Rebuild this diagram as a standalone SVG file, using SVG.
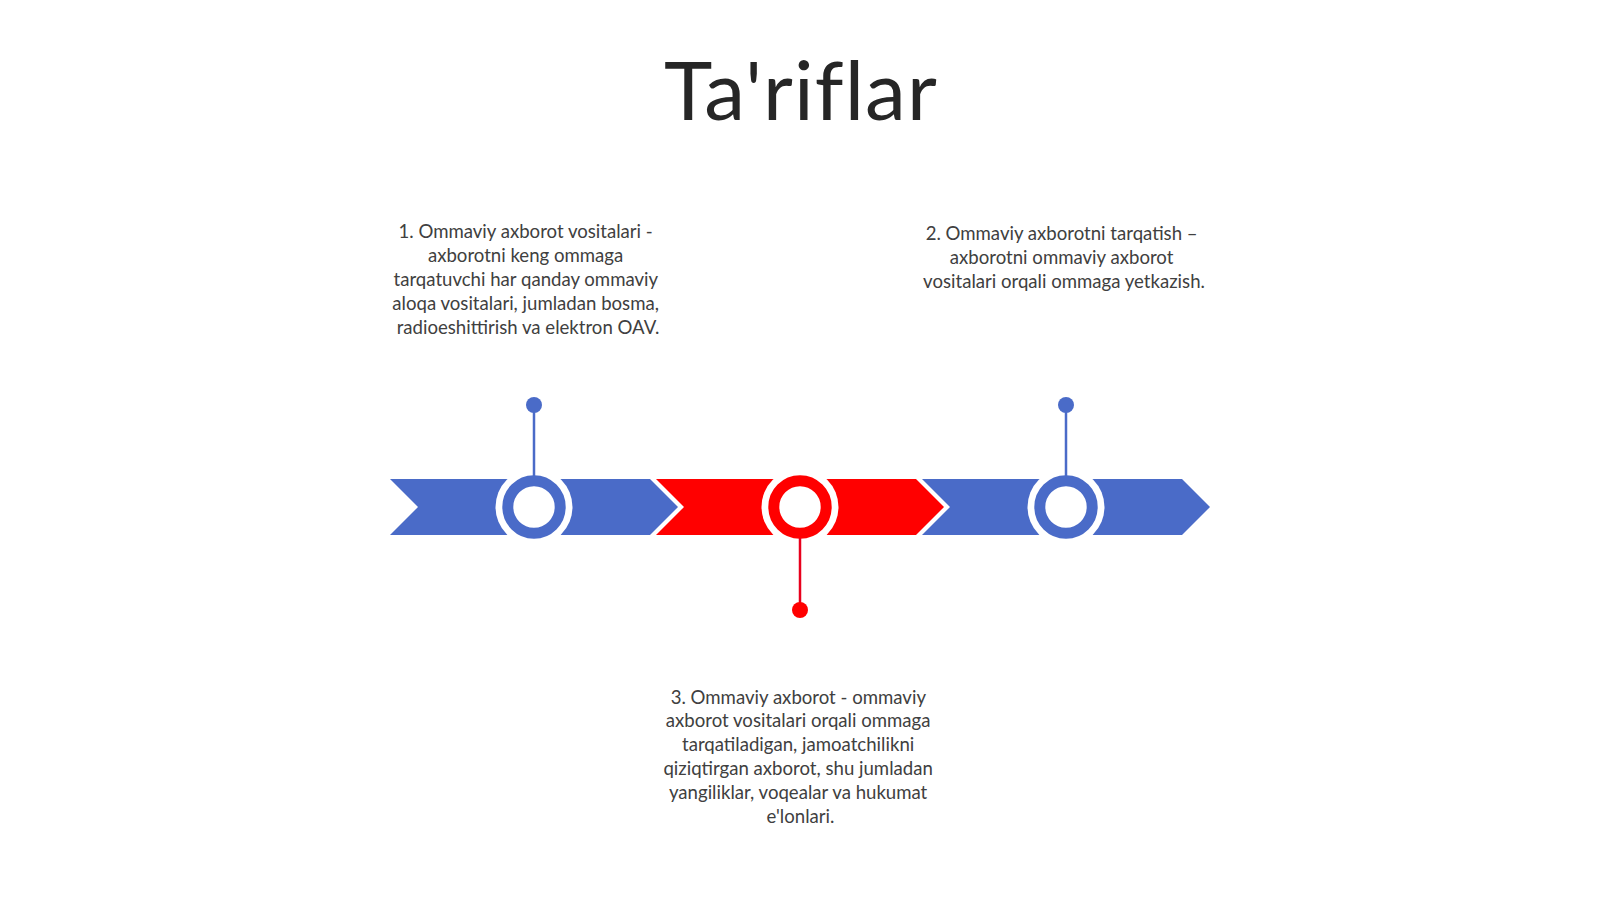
<svg xmlns="http://www.w3.org/2000/svg" width="1600" height="899" viewBox="0 0 1600 899">
<style>
.title{font-family:Lato,"Liberation Sans",sans-serif;font-size:82px;letter-spacing:1.1px;fill:#262626;text-anchor:middle}
.body{font-family:Lato,"Liberation Sans",sans-serif;font-size:18.6px;fill:#404040;text-anchor:middle}
.blue{fill:#4a6bc8}
.red{fill:#ff0000}
.halo{fill:#ffffff}
.ringb{fill:#ffffff;stroke:#4a6bc8;stroke-width:11}
.ringr{fill:#ffffff;stroke:#ff0000;stroke-width:11}
.stemb{stroke:#4a6bc8;stroke-width:2.5}
.stemr{stroke:#e8001c;stroke-width:2.5}
</style>
<rect width="1600" height="899" fill="#ffffff"/>
<text class="title" x="801" y="120">Ta'riflar</text>

<g id="ribbon">
  <polygon id="seg1" class="blue" points="390,479 650,479 678,507 650,535 390,535 418,507"/>
  <polygon id="seg2" class="red" points="656,479 916,479 944,507 916,535 656,535 684,507"/>
  <polygon id="seg3" class="blue" points="922,479 1182,479 1210,507 1182,535 922,535 950,507"/>
</g>

<g id="node1">
  <circle class="halo" cx="534" cy="507" r="38.5"/>
  <circle class="ringb" cx="534" cy="507" r="26.2"/>
  <text class="body" x="528">
    <tspan x="528" y="237.6">1. Ommaviy axborot vositalari -</tspan>
    <tspan x="528" y="261.6">axborotni keng ommaga</tspan>
    <tspan x="528" y="285.6">tarqatuvchi har qanday ommaviy</tspan>
    <tspan x="528" y="309.6">aloqa vositalari, jumladan bosma,</tspan>
    <tspan x="528" y="333.6">radioeshittirish va elektron OAV.</tspan>
  </text>
</g>

<g id="node2">
  <circle class="halo" cx="800" cy="507" r="38.5"/>
  <circle class="ringr" cx="800" cy="507" r="26.2"/>
  <text class="body" x="800.5">
    <tspan x="800.5" y="703.5">3. Ommaviy axborot - ommaviy</tspan>
    <tspan x="800.5" y="727.4">axborot vositalari orqali ommaga</tspan>
    <tspan x="800.5" y="751.3">tarqatiladigan, jamoatchilikni</tspan>
    <tspan x="800.5" y="775.2">qiziqtirgan axborot, shu jumladan</tspan>
    <tspan x="800.5" y="799.1">yangiliklar, voqealar va hukumat</tspan>
    <tspan x="800.5" y="823">e'lonlari.</tspan>
  </text>
</g>

<g id="node3">
  <circle class="halo" cx="1066" cy="507" r="38.5"/>
  <circle class="ringb" cx="1066" cy="507" r="26.2"/>
  <text class="body" x="1064">
    <tspan x="1064" y="240.3">2. Ommaviy axborotni tarqatish –</tspan>
    <tspan x="1064" y="264.3">axborotni ommaviy axborot</tspan>
    <tspan x="1064" y="288.3">vositalari orqali ommaga yetkazish.</tspan>
  </text>
</g>

<g id="connectors">
  <line class="stemb" x1="534" y1="405" x2="534" y2="476"/>
  <circle class="blue" cx="534" cy="405" r="8"/>
  <line class="stemr" x1="800" y1="538" x2="800" y2="610"/>
  <circle class="red" cx="800" cy="610" r="8"/>
  <line class="stemb" x1="1066" y1="405" x2="1066" y2="476"/>
  <circle class="blue" cx="1066" cy="405" r="8"/>
</g>
</svg>
